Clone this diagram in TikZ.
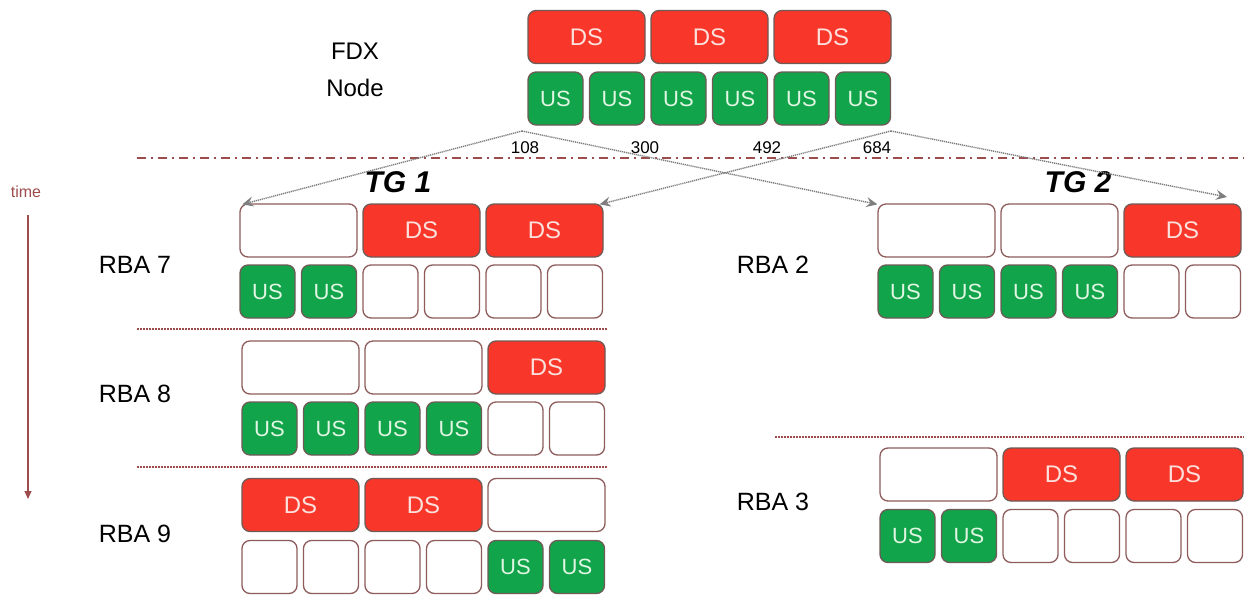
\documentclass[tikz,border=0pt]{standalone}
\usepackage{fontspec}
\setmainfont{Liberation Sans}
\usetikzlibrary{arrows.meta}
\definecolor{dsred}{HTML}{F8372A}
\definecolor{usgreen}{HTML}{12A44A}
\definecolor{filledge}{HTML}{6E5A56}
\definecolor{freeedge}{HTML}{8E5B5B}
\definecolor{dstext}{HTML}{FCE0DC}
\definecolor{ustext}{HTML}{E2F6E4}
\definecolor{maroon}{HTML}{9E4B4B}
\definecolor{linkgray}{HTML}{7E7E7E}

% one timing block: name, left edge, DS row centre, US row centre, DS slots, US slots
\newcommand\slotblock[6]{%
  \foreach \st [count=\i from 0] in {#5}
    \node (#1-d\i) at ({#2+58.5+123*\i}, #3) [\st];
  \foreach \st [count=\i from 0] in {#6}
    \node (#1-u\i) at ({#2+27.5+61.5*\i}, #4) [\st];
}

\tikzset{
  slot/.style={rounded corners=8pt, line width=1.3pt, minimum height=53pt, inner sep=0pt},
  dsfull/.style={slot, minimum width=117pt, fill=dsred, draw=filledge, text=dstext,
    font=\fontsize{24}{26}\selectfont, node contents=DS},
  dsfree/.style={slot, minimum width=117pt, fill=white, draw=freeedge, node contents={}},
  usfull/.style={slot, minimum width=55pt, fill=usgreen, draw=filledge, text=ustext,
    font=\fontsize{22}{24}\selectfont, node contents=US},
  usfree/.style={slot, minimum width=55pt, fill=white, draw=freeedge, node contents={}},
  rbalabel/.style={font=\fontsize{25}{28}\selectfont},
  tglabel/.style={font=\fontsize{30}{32}\selectfont\bfseries\itshape},
  offset/.style={font=\fontsize{17}{19}\selectfont},
  link/.style={linkgray, line width=1.4pt, dash pattern=on 1.2pt off 0.8pt,
    -{Stealth[length=11pt,width=10pt,inset=4pt]}},
  separator/.style={maroon, line width=1.4pt, dash pattern=on 1.5pt off 1.5pt},
}

\begin{document}
\begin{tikzpicture}[x=1pt, y=-1pt]
\useasboundingbox (0,0) rectangle (1244,594);

% FDX node schedule
\node[align=center, font=\fontsize{24}{37}\selectfont] (fdx) at (355,70) {FDX\\Node};
\slotblock{fdxs}{528}{37}{98.5}{dsfull,dsfull,dsfull}{usfull,usfull,usfull,usfull,usfull,usfull}

% transmission group boundary
\coordinate (bl) at (137,158);
\coordinate (br) at (1244,158);
\draw[maroon, line width=1.5pt, dash pattern=on 9pt off 5pt on 2pt off 5pt] (bl) -- (br);

% symbol offsets
\node[offset] (o108) at (525,148) {108};
\node[offset] (o300) at (645,148) {300};
\node[offset] (o492) at (767,148) {492};
\node[offset] (o684) at (877,148) {684};

\node[tglabel] (tg1) at (398,182) {TG 1};
\node[tglabel] (tg2) at (1078,182) {TG 2};

% time axis
\node[maroon, font=\fontsize{16}{18}\selectfont] (time) at (26,192) {time};
\coordinate (t0) at (28,215);
\coordinate (t1) at (28,499);
\draw[maroon, line width=1.2pt, -{Triangle[length=8pt,width=7pt]}] (t0) -- (t1);

% TG 1 blocks
\node[rbalabel] (rba7) at (135,265) {RBA 7};
\slotblock{b7}{240}{230.5}{291.5}{dsfree,dsfull,dsfull}{usfull,usfull,usfree,usfree,usfree,usfree}
\coordinate (s1l) at (137,329); \coordinate (s1r) at (608,329);
\draw[separator] (s1l) -- (s1r);

\node[rbalabel] (rba8) at (135,394) {RBA 8};
\slotblock{b8}{242}{367.5}{428.5}{dsfree,dsfree,dsfull}{usfull,usfull,usfull,usfull,usfree,usfree}
\coordinate (s2l) at (137,467); \coordinate (s2r) at (608,467);
\draw[separator] (s2l) -- (s2r);

\node[rbalabel] (rba9) at (135,534) {RBA 9};
\slotblock{b9}{242}{505}{567}{dsfull,dsfull,dsfree}{usfree,usfree,usfree,usfree,usfull,usfull}

% TG 2 blocks
\node[rbalabel] (rba2) at (773,265) {RBA 2};
\slotblock{b2}{878}{230.5}{291.5}{dsfree,dsfree,dsfull}{usfull,usfull,usfull,usfull,usfree,usfree}
\coordinate (s3l) at (775,437); \coordinate (s3r) at (1244,437);
\draw[separator] (s3l) -- (s3r);

\node[rbalabel] (rba3) at (773,502) {RBA 3};
\slotblock{b3}{880}{474.5}{536}{dsfree,dsfull,dsfull}{usfull,usfull,usfree,usfree,usfree,usfree}

% mapping of the FDX symbols onto the two groups
\coordinate (fl) at (522,131);
\coordinate (fr) at (891,131);
\coordinate (tg2end) at (1227,197);
\draw[link] (fl) -- ([xshift=3pt,yshift=-1pt]b7-d0.north west);
\draw[link] (fl) -- ([yshift=-1pt]b2-d0.north west);
\draw[link] (fr) -- ([xshift=-4pt,yshift=-1pt]b7-d2.north east);
\draw[link] (fr) -- (tg2end);
\end{tikzpicture}
\end{document}
